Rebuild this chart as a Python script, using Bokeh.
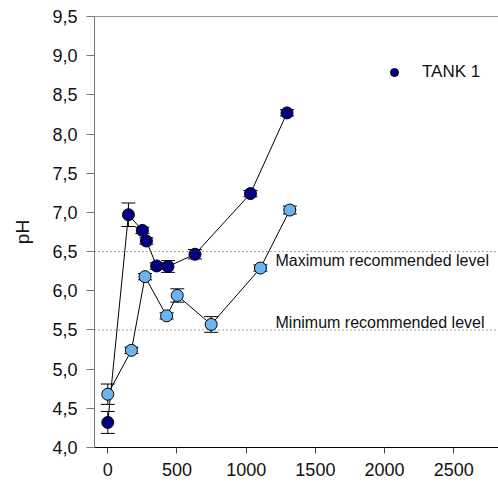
from bokeh.plotting import figure
from bokeh.models import (ColumnDataSource, Whisker, TeeHead, Span, Legend, LegendItem,
                          FixedTicker, CustomJSTickFormatter, Range1d)
from bokeh.embed import file_html
from bokeh.resources import INLINE
from bokeh.core.properties import value

# ---- data ----
tank1_x = [0, 149, 250, 279, 353, 435, 630, 1031, 1295]
tank1_y = [4.32, 6.97, 6.77, 6.635, 6.317, 6.31, 6.466, 7.24, 8.27]
tank1_err = [0.14, 0.15, 0.04, 0.04, 0.04, 0.075, 0.06, 0.04, 0.04]

tank2_x = [0, 171, 269, 425, 502, 747, 1103, 1315]
tank2_y = [4.68, 5.24, 6.18, 5.68, 5.94, 5.57, 6.29, 7.03]
tank2_err = [0.13, 0.04, 0.04, 0.04, 0.085, 0.1, 0.04, 0.05]

ref_levels = [6.5, 5.5]
ref_label_x = [1212, 1212]
ref_label_y = [6.385, 5.60]
ref_labels = ["Maximum recommended level", "Minimum recommended level"]

x_ticks = [0, 500, 1000, 1500, 2000, 2500]
y_ticks = [4.0, 4.5, 5.0, 5.5, 6.0, 6.5, 7.0, 7.5, 8.0, 8.5, 9.0, 9.5]

legend_label = "TANK 1"
y_axis_label = "pH"

FONT = "Liberation Sans"
DARK = "#000080"
LIGHT = "#6CB4EE"

p = figure(width=498, height=478, output_backend="svg", toolbar_location=None,
           x_range=Range1d(-96, 2823), y_range=Range1d(4.0, 9.5),
           min_border_left=94, min_border_right=0, min_border_top=16, min_border_bottom=30)
p.outline_line_color = None
p.xgrid.visible = False
p.ygrid.visible = False
p.background_fill_color = "white"

# top frame line
p.add_layout(Span(location=y_ticks[-1], dimension="width", line_color="#333333", line_width=1))

# reference levels
for lv in ref_levels:
    p.add_layout(Span(location=lv, dimension="width", line_color="#444444",
                      line_dash="1 3", line_width=1))

def add_series(xs, ys, errs, color):
    src = ColumnDataSource(dict(x=xs, y=ys, lo=[a - b for a, b in zip(ys, errs)],
                                hi=[a + b for a, b in zip(ys, errs)]))
    p.line("x", "y", source=src, line_color="black", line_width=1)
    w = Whisker(base="x", lower="lo", upper="hi", source=src, dimension="height",
                line_color="black", line_width=1,
                upper_head=TeeHead(size=14, line_color="black", line_width=1),
                lower_head=TeeHead(size=14, line_color="black", line_width=1))
    p.add_layout(w)
    r = p.scatter("x", "y", source=src, size=12, fill_color=color,
                  line_color="black", line_width=1)
    return r

r1 = add_series(tank1_x, tank1_y, tank1_err, DARK)
r2 = add_series(tank2_x, tank2_y, tank2_err, LIGHT)

# reference labels
p.text(x=ref_label_x, y=ref_label_y, text=ref_labels, text_font=value(FONT),
       text_font_size="16px", text_baseline="middle", text_align="left", text_color="#111111")

# legend
legend = Legend(items=[LegendItem(label=legend_label, renderers=[r1])],
                location=(290, 365), padding=0, margin=0, spacing=0,
                glyph_width=20, glyph_height=20, label_standoff=18,
                label_text_font=FONT, label_text_font_size="17px", label_text_color="#111111",
                border_line_color=None, background_fill_alpha=0)
p.add_layout(legend)

# axes
p.xaxis.ticker = FixedTicker(ticks=x_ticks)
p.xaxis.axis_line_color = "black"
p.xaxis.major_tick_line_color = "#444444"
p.xaxis.major_tick_out = 6
p.xaxis.major_tick_in = 0
p.xaxis.minor_tick_line_color = None
p.xaxis.major_label_text_font = FONT
p.xaxis.major_label_text_font_size = "18px"
p.xaxis.major_label_text_color = "#111111"
p.xaxis.major_label_standoff = 9

p.yaxis.ticker = FixedTicker(ticks=y_ticks)
p.yaxis.formatter = CustomJSTickFormatter(code="return tick.toFixed(1).replace('.', ',');")
p.yaxis.axis_line_color = "#777777"
p.yaxis.major_tick_line_color = "#777777"
p.yaxis.major_tick_out = 8
p.yaxis.major_tick_in = 0
p.yaxis.minor_tick_line_color = None
p.yaxis.major_label_text_font = FONT
p.yaxis.major_label_text_font_size = "18px"
p.yaxis.major_label_text_color = "#111111"
p.yaxis.major_label_standoff = 9
p.yaxis.axis_label = y_axis_label
p.yaxis.axis_label_text_font = FONT
p.yaxis.axis_label_text_font_size = "19px"
p.yaxis.axis_label_text_font_style = "normal"
p.yaxis.axis_label_text_color = "#111111"
p.yaxis.axis_label_standoff = 16

open("out.html", "w").write(file_html(p, INLINE))
